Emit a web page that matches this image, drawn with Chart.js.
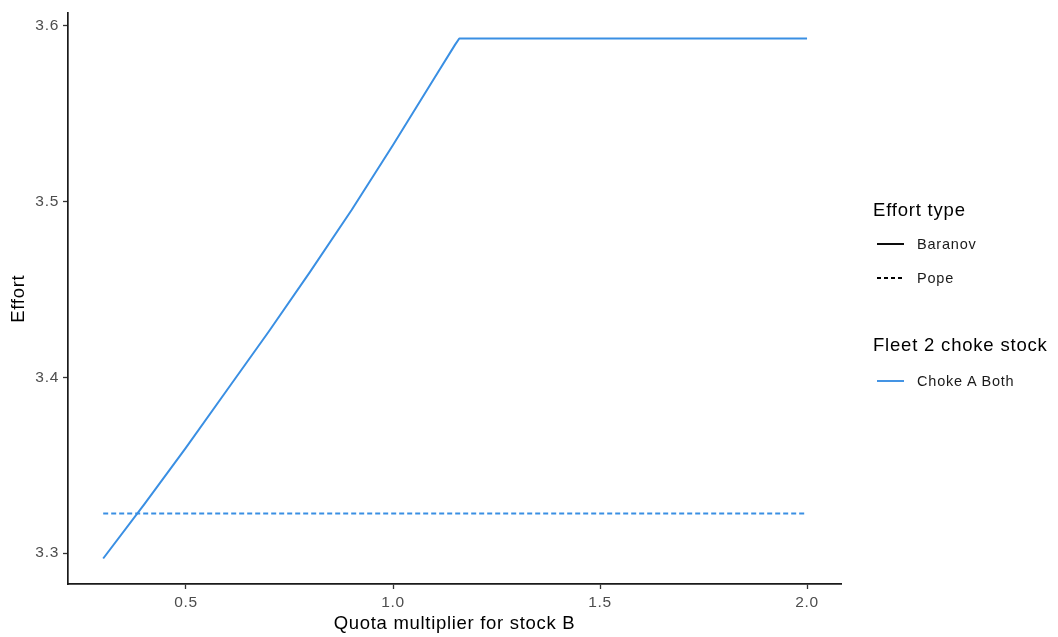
<!DOCTYPE html>
<html>
<head>
<meta charset="utf-8">
<script src="https://cdn.jsdelivr.net/npm/chart.js@4"></script>
<style>
  body { margin: 0; background: #fff; }
  #wrap { position: relative; width: 1058px; height: 637px; font-family: "Liberation Sans", Arial, sans-serif; }
  .lg { position: absolute; white-space: nowrap; color: #000; }
  .lg-title { font-size: 18.5px; line-height: 22px; letter-spacing: 0.8px; left: 873px; }
  .lg-label { font-size: 14.5px; line-height: 18px; letter-spacing: 0.8px; left: 917px; color: #1a1a1a; }
  .lg-key { position: absolute; left: 877px; }
</style>
</head>
<body>
<div id="wrap">
  <canvas id="effortChart" width="1058" height="637"></canvas>

  <div class="lg lg-title" style="top:199px">Effort type</div>
  <svg class="lg-key" style="top:239px" width="27" height="10"><line x1="0" y1="5" x2="27" y2="5" stroke="#000" stroke-width="1.9"/></svg>
  <div class="lg lg-label" style="top:235px">Baranov</div>
  <svg class="lg-key" style="top:273px" width="27" height="10"><line x1="0" y1="5" x2="27" y2="5" stroke="#000" stroke-width="1.9" stroke-dasharray="4 3"/></svg>
  <div class="lg lg-label" style="top:269px">Pope</div>

  <div class="lg lg-title" style="top:334px">Fleet 2 choke stock</div>
  <svg class="lg-key" style="top:376px" width="27" height="10"><line x1="0" y1="5" x2="27" y2="5" stroke="#3a8fe3" stroke-width="1.9"/></svg>
  <div class="lg lg-label" style="top:372px">Choke A Both</div>
</div>
<script>
// quota multiplier for stock B (x) and effort per effort type
const quotaMultiplier = [0.3, 0.4, 0.5, 0.6, 0.7, 0.8, 0.9, 1.0, 1.1, 1.15, 1.16, 1.2, 1.3, 1.4, 1.5, 1.6, 1.7, 1.8, 1.9, 2.0];
const baranovEffort = [3.297, 3.328, 3.360, 3.393, 3.426, 3.460, 3.495, 3.532, 3.570, 3.589, 3.5925, 3.5925, 3.5925, 3.5925, 3.5925, 3.5925, 3.5925, 3.5925, 3.5925, 3.5925];
const popeEffort = [3.3225, 3.3225, 3.3225, 3.3225, 3.3225, 3.3225, 3.3225, 3.3225, 3.3225, 3.3225, 3.3225, 3.3225, 3.3225, 3.3225, 3.3225, 3.3225, 3.3225, 3.3225, 3.3225, 3.3225];

const xTicks = [0.5, 1.0, 1.5, 2.0];
const xTickLabels = ['0.5', '1.0', '1.5', '2.0'];
const yTicks = [3.3, 3.4, 3.5, 3.6];
const yTickLabels = ['3.3', '3.4', '3.5', '3.6'];

const chokeColor = '#3a8fe3';
const fontFamily = '"Liberation Sans", Arial, sans-serif';

// ggplot text is a bit wider than plain Arial, so add some letter spacing
const spacingPlugin = {
    id: 'spacing',
    beforeUpdate(chart) { chart.ctx.letterSpacing = '0.7px'; },
    beforeDraw(chart) { chart.ctx.letterSpacing = '0.7px'; }
};

const ctx = document.getElementById('effortChart').getContext('2d');
new Chart(ctx, {
    type: 'line',
    data: {
        datasets: [{
            label: 'Baranov',
            data: quotaMultiplier.map((q, i) => ({ x: q, y: baranovEffort[i] })),
            borderColor: chokeColor,
            borderWidth: 2,
            borderJoinStyle: 'round',
            pointRadius: 0,
            tension: 0,
            fill: false
        }, {
            label: 'Pope',
            data: quotaMultiplier.map((q, i) => ({ x: q, y: popeEffort[i] })),
            borderColor: chokeColor,
            borderWidth: 2,
            borderDash: [5, 3],
            pointRadius: 0,
            tension: 0,
            fill: false
        }]
    },
    options: {
        responsive: false,
        animation: false,
        layout: { padding: { top: 11, right: 217, left: 0, bottom: 0 } },
        plugins: { legend: { display: false }, tooltip: { enabled: false } },
        scales: {
            x: {
                type: 'linear',
                min: 0.215,
                max: 2.082,
                afterBuildTicks: axis => { axis.ticks = xTicks.map(v => ({ value: v })); },
                afterFit: axis => { axis.height = 53; },
                border: { display: true, color: '#1a1a1a', width: 1.7 },
                grid: { drawOnChartArea: false, drawTicks: true, tickLength: 5, tickColor: '#333', tickWidth: 1.3 },
                ticks: {
                    autoSkip: false,
                    maxRotation: 0,
                    padding: 4,
                    color: '#4d4d4d',
                    font: { size: 15.5, family: fontFamily },
                    callback: (value, index) => xTickLabels[index]
                },
                title: {
                    display: true,
                    text: 'Quota multiplier for stock B',
                    color: '#000',
                    font: { size: 18.5, family: fontFamily },
                    padding: { top: 0, bottom: 2 }
                }
            },
            y: {
                type: 'linear',
                min: 3.2825,
                max: 3.6068,
                afterBuildTicks: axis => { axis.ticks = yTicks.map(v => ({ value: v })); },
                afterFit: axis => { axis.width = 68; },
                border: { display: true, color: '#1a1a1a', width: 1.7 },
                grid: { drawOnChartArea: false, drawTicks: true, tickLength: 5, tickColor: '#333', tickWidth: 1.3 },
                ticks: {
                    padding: 4,
                    color: '#4d4d4d',
                    font: { size: 15.5, family: fontFamily },
                    callback: (value, index) => yTickLabels[index]
                },
                title: {
                    display: true,
                    text: 'Effort',
                    color: '#000',
                    font: { size: 18.5, family: fontFamily },
                    padding: { top: 8, bottom: 0 }
                }
            }
        }
    },
    plugins: [spacingPlugin]
});
</script>
</body>
</html>
